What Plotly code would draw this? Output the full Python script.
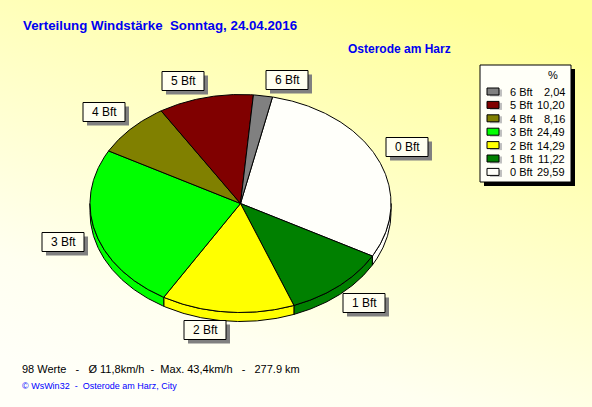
import base64
import numpy as np
import plotly.graph_objects as go

# ---------------- data ----------------
categories = ["0 Bft", "1 Bft", "2 Bft", "3 Bft", "4 Bft", "5 Bft", "6 Bft"]
percent = [29.59, 11.22, 14.29, 24.49, 8.16, 10.20, 2.04]
percent_labels = ["29,59", "11,22", "14,29", "24,49", "8,16", "10,20", "2,04"]
colors = ["#FFFFFA", "#008000", "#FFFF00", "#00FF00", "#808000", "#800000", "#808080"]

title_text = "Verteilung Windstärke\u00a0\u00a0Sonntag, 24.04.2016"
place_text = "Osterode am Harz"
stats_text = ("98 Werte\u00a0\u00a0\u00a0-\u00a0\u00a0\u00a0Ø 11,8km/h\u00a0\u00a0-\u00a0\u00a0Max. 43,4km/h"
              "\u00a0\u00a0\u00a0-\u00a0\u00a0\u00a0277.9 km")
footer_text = "© WsWin32\u00a0\u00a0-\u00a0\u00a0Osterode am Harz, City"

# ---------------- layout constants ----------------
W, H = 592, 407
CX, CY, RX, RY, DEPTH = 240.5, 203.5, 150.5, 109, 9
START = 77.7  # degrees, slices go clockwise
LABEL_POS = {"0 Bft": (407, 147), "1 Bft": (364, 303), "2 Bft": (205, 330),
             "3 Bft": (63, 242), "4 Bft": (104, 112), "5 Bft": (183, 81),
             "6 Bft": (287, 80)}


def ell(theta, dy=0.0):
    t = np.radians(theta)
    return CX + RX * np.cos(t), CY - RY * np.sin(t) + dy


fig = go.Figure()

# angles
bounds = []
a = START
for p in percent:
    bounds.append((a - p * 3.6, a))
    a -= p * 3.6

# 3D side walls (lower half only)
for (lo, hi), c in zip(bounds, colors):
    s_lo, s_hi = max(lo, -180.0), min(hi, 0.0)
    if s_hi <= s_lo:
        continue
    th = np.linspace(s_lo, s_hi, max(int((s_hi - s_lo) * 2), 3))
    xt, yt = ell(th)
    xb, yb = ell(th[::-1], DEPTH)
    fig.add_trace(go.Scatter(x=np.r_[xt, xb, xt[:1]], y=np.r_[yt, yb, yt[:1]],
                             mode="lines", fill="toself", fillcolor=c,
                             line=dict(color="black", width=1), hoverinfo="skip",
                             showlegend=False))

# top slices
for (lo, hi), c in zip(bounds, colors):
    th = np.linspace(hi, lo, max(int((hi - lo) * 2), 3))
    xs, ys = ell(th)
    fig.add_trace(go.Scatter(x=np.r_[CX, xs, CX], y=np.r_[CY, ys, CY],
                             mode="lines", fill="toself", fillcolor=c,
                             line=dict(color="black", width=1), hoverinfo="skip",
                             showlegend=False))

shapes = []
annotations = []

# slice labels
BW, BH = 42, 19
for cat in categories:
    lx, ly = LABEL_POS[cat]
    shapes.append(dict(type="rect", x0=lx - BW / 2 + 4, x1=lx + BW / 2 + 4,
                       y0=ly - BH / 2 + 4, y1=ly + BH / 2 + 4,
                       fillcolor="#808080", line=dict(width=0)))
    shapes.append(dict(type="rect", x0=lx - BW / 2, x1=lx + BW / 2,
                       y0=ly - BH / 2, y1=ly + BH / 2,
                       fillcolor="#FFFFF0", line=dict(color="black", width=1)))
    annotations.append(dict(x=lx, y=ly, text=cat, showarrow=False,
                            xanchor="center", yanchor="middle",
                            font=dict(family="Liberation Sans, Arial", size=12, color="black")))

# legend box
LX0, LX1, LY0, LY1 = 480, 571, 65, 182
shapes.append(dict(type="rect", x0=LX0 + 4, x1=LX1 + 4, y0=LY0 + 4, y1=LY1 + 4,
                   fillcolor="#000000", line=dict(width=0)))
shapes.append(dict(type="rect", x0=LX0, x1=LX1, y0=LY0, y1=LY1,
                   fillcolor="#FFFFF8", line=dict(color="black", width=1)))
annotations.append(dict(x=553, y=75, text="%", showarrow=False, xanchor="center",
                        yanchor="middle",
                        font=dict(family="Liberation Sans, Arial", size=11, color="black")))
order = list(range(len(categories)))[::-1]
for row, i in enumerate(order):
    ry = 92 + row * 13.4
    shapes.append(dict(type="rect", x0=490, x1=502, y0=ry - 2.5, y1=ry + 4.5,
                       fillcolor="#C0C0C0", line=dict(width=0)))
    shapes.append(dict(type="rect", x0=487, x1=499, y0=ry - 4, y1=ry + 3,
                       fillcolor=colors[i], line=dict(color="black", width=1)))
    annotations.append(dict(x=508, y=ry, text=categories[i], showarrow=False,
                            xanchor="left", yanchor="middle",
                            font=dict(family="Liberation Sans, Arial", size=11, color="black")))
    annotations.append(dict(x=567, y=ry, text=percent_labels[i], showarrow=False,
                            xanchor="right", yanchor="middle",
                            font=dict(family="Liberation Sans, Arial", size=11, color="black")))

# texts
annotations.append(dict(x=21, y=25, text=title_text, showarrow=False, xanchor="left",
                        yanchor="middle",
                        font=dict(family="Liberation Sans, Arial", size=13.3, color="#0000F0",
                                  weight="bold")))
annotations.append(dict(x=346, y=49, text=place_text, showarrow=False, xanchor="left",
                        yanchor="middle",
                        font=dict(family="Liberation Sans, Arial", size=12, color="#0000F0",
                                  weight="bold")))
annotations.append(dict(x=20, y=369, text=stats_text, showarrow=False, xanchor="left",
                        yanchor="middle",
                        font=dict(family="Liberation Sans, Arial", size=11, color="black")))
annotations.append(dict(x=20, y=386, text=footer_text, showarrow=False, xanchor="left",
                        yanchor="middle",
                        font=dict(family="Liberation Sans, Arial", size=9, color="#0000FF")))

# gradient background
svg = ('<svg xmlns="http://www.w3.org/2000/svg" width="592" height="407">'
       '<defs><linearGradient id="g" x1="0.75" y1="0" x2="0.25" y2="1">'
       '<stop offset="0" stop-color="#FFFF99"/>'
       '<stop offset="0.8" stop-color="#FFFFF0"/>'
       '<stop offset="1" stop-color="#FFFFF8"/>'
       '</linearGradient></defs><rect width="592" height="407" fill="url(#g)"/></svg>')
bg_src = "data:image/svg+xml;base64," + base64.b64encode(svg.encode()).decode()

fig.update_layout(
    width=W, height=H, autosize=False,
    margin=dict(l=0, r=0, t=0, b=0),
    paper_bgcolor="#FFFFCC", plot_bgcolor="rgba(0,0,0,0)",
    xaxis=dict(range=[0, W], visible=False, fixedrange=True),
    yaxis=dict(range=[H, 0], visible=False, fixedrange=True),
    shapes=shapes, annotations=annotations,
    images=[dict(source=bg_src, xref="paper", yref="paper", x=0, y=1, sizex=1, sizey=1,
                 sizing="stretch", xanchor="left", yanchor="top", layer="below")],
    showlegend=False,
)

fig.write_html("out.html", config={"displayModeBar": False},
               post_script="document.body.style.margin='0';document.body.style.overflow='hidden';")
